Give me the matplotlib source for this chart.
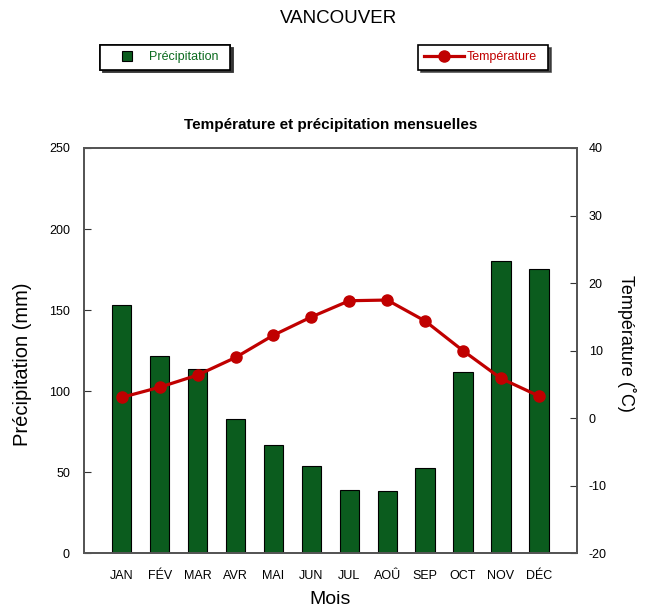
import matplotlib.pyplot as plt
from matplotlib.lines import Line2D

plt.rcParams['font.family'] = ['Liberation Sans', 'DejaVu Sans']
plt.rcParams['axes.unicode_minus'] = False

mois = ['JAN', 'FÉV', 'MAR', 'AVR', 'MAI', 'JUN', 'JUL', 'AOÛ', 'SEP', 'OCT', 'NOV', 'DÉC']
precip = [153, 122, 114, 83, 67, 54, 39, 38.5, 53, 112, 180.5, 175.5]
temp = [3.1, 4.6, 6.4, 9.0, 12.3, 15.0, 17.4, 17.5, 14.4, 10.0, 5.9, 3.3]

vert = '#0b5c1e'
rouge = '#c00000'

fig = plt.figure(figsize=(6.45, 6.12), dpi=100)
ax = fig.add_axes([0.130, 0.0956, 0.7643, 0.6626])
x = range(1, 13)
ax.bar(x, precip, width=0.51, color=vert, edgecolor='black', linewidth=0.8, zorder=2)
ax.set_xlim(0, 13)
ax.set_ylim(0, 250)
ax.set_yticks([0, 50, 100, 150, 200, 250])
ax.set_xticks(list(x))
ax.set_xticklabels(mois)
ax.tick_params(axis='x', length=0, pad=12, labelsize=9)
ax.tick_params(axis='y', direction='in', length=5, pad=10, labelsize=9, color='#333333')
ax.set_ylabel('Précipitation (mm)', fontsize=14.5, va='center', ha='center')
ax.yaxis.set_label_coords(-0.124, 0.466)
ax.set_xlabel('Mois', fontsize=14, labelpad=6.5)
for s in ax.spines.values():
    s.set_color('#555555')
    s.set_linewidth(1.3)

ax2 = ax.twinx()
ax2.plot(x, temp, color=rouge, linewidth=2.3, marker='o', markersize=8, zorder=3)
ax2.set_ylim(-20, 40)
ax2.set_yticks([-20, -10, 0, 10, 20, 30, 40])
ax2.tick_params(axis='y', direction='in', length=5, pad=8.5, labelsize=9, color='#333333')
ax2.set_ylabel('Température (˚C)', fontsize=13, rotation=270, va='center', ha='center')
ax2.yaxis.set_label_coords(1.101, 0.518)
for s in ax2.spines.values():
    s.set_color('#555555')
    s.set_linewidth(1.3)

ax.set_title('Température et précipitation mensuelles', fontsize=11, fontweight='bold', pad=14)
fig.text(0.525, 0.97, 'VANCOUVER', fontsize=13.5, ha='center', va='center')

shadow = {'color': '#333333', 'alpha': 0.85}
carre = Line2D([], [], linestyle='none', marker='s', markersize=7.5, markerfacecolor=vert,
               markeredgecolor='black', markeredgewidth=0.8, label='Précipitation')
leg1 = fig.legend(handles=[carre],
                  loc='upper left', bbox_to_anchor=(100 / 645, 1 - 70 / 612, 130 / 645, 25 / 612),
                  mode='expand', fancybox=False, edgecolor='black', shadow=shadow,
                  fontsize=9, labelcolor='#0b6b1e', handlelength=3.3,
                  borderpad=0.5, handletextpad=0.1, borderaxespad=0)
leg1.get_frame().set_linewidth(1.2)
fig.add_artist(leg1)
leg2 = fig.legend(handles=[Line2D([], [], color=rouge, linewidth=2.3, marker='o', markersize=8,
                                  label='Température')],
                  loc='upper left', bbox_to_anchor=(418 / 645, 1 - 70 / 612, 130 / 645, 25 / 612),
                  mode='expand', fancybox=False, edgecolor='black', shadow=shadow,
                  fontsize=9, labelcolor=rouge, handlelength=3.2,
                  borderpad=0.5, handletextpad=0.2, borderaxespad=0)
leg2.get_frame().set_linewidth(1.2)

fig.savefig('out.png', dpi=100)
